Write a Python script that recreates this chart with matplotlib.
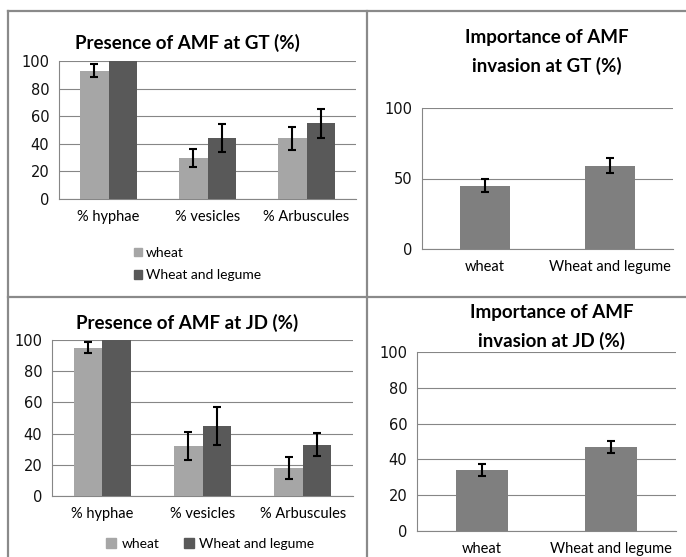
import matplotlib
matplotlib.use("Agg")
import matplotlib.pyplot as plt
from matplotlib.lines import Line2D
from matplotlib.patches import Patch
import numpy as np

W, H = 686, 557

# AMF structures observed in roots, two cropping systems
structures = ["% hyphae", "% vesicles", "% Arbuscules"]
systems = ["wheat", "Wheat and legume"]

gt_wheat = [93, 30, 44]
gt_wheat_err = [4.5, 6.5, 8.5]
gt_mixed = [100, 44, 55]
gt_mixed_err = [0, 10, 10.5]

jd_wheat = [95, 32, 18]
jd_wheat_err = [3.5, 9, 7]
jd_mixed = [100, 45, 33]
jd_mixed_err = [0, 12, 7.5]

# Importance of AMF invasion
gt_invasion = [45, 59]
gt_invasion_err = [4.6, 5.3]
jd_invasion = [34, 47]
jd_invasion_err = [3.5, 3.5]

LIGHT = "#a6a6a6"
DARK = "#595959"
MID = "#7f7f7f"
GRID = "#868686"
FRAME = "#8a8a8a"

TITLE_FONT = ["Lato", "DejaVu Sans"]
NARROW_FONT = ["Liberation Sans Narrow", "Lato", "DejaVu Sans"]
TICK_FONT = ["DejaVu Sans"]

fig = plt.figure(figsize=(W / 100, H / 100), dpi=100)
fig.patch.set_facecolor("white")


def px_axes(x0, y0, x1, y1):
    return fig.add_axes([x0 / W, 1 - y1 / H, (x1 - x0) / W, (y1 - y0) / H])


def style(ax, yticks, tick_size=10.5):
    ax.set_ylim(0, 100)
    ax.set_yticks(yticks)
    ax.yaxis.grid(True, color=GRID, linewidth=0.8)
    ax.set_axisbelow(True)
    for s in ("top", "right"):
        ax.spines[s].set_visible(False)
    for s in ("left", "bottom"):
        ax.spines[s].set_color(GRID)
        ax.spines[s].set_linewidth(0.8)
    ax.tick_params(axis="both", length=0)
    ax.tick_params(axis="y", pad=7)
    ax.tick_params(axis="x", pad=8)
    for lab in ax.get_yticklabels():
        lab.set_fontfamily(TICK_FONT)
        lab.set_fontsize(tick_size)
        lab.set_color("#111111")


def errbars(ax, x, y, e):
    x = np.asarray(x, float)
    y = np.asarray(y, float)
    e = np.asarray(e, float)
    m = e > 0
    ax.errorbar(x[m], y[m], yerr=e[m], fmt="none", ecolor="black",
                elinewidth=1.5, capsize=3, capthick=1.5, zorder=4)


def presence(ax, wheat, wheat_err, mixed, mixed_err, yticks):
    x = np.arange(len(structures))
    bw = 0.283
    ax.bar(x - bw / 2, wheat, bw, color=LIGHT, zorder=3, label=systems[0])
    ax.bar(x + bw / 2, mixed, bw, color=DARK, zorder=3, label=systems[1])
    errbars(ax, x - bw / 2, wheat, wheat_err)
    errbars(ax, x + bw / 2, mixed, mixed_err)
    ax.set_xlim(-0.5, len(structures) - 0.5)
    ax.set_xticks(x)
    ax.set_xticklabels(structures, fontfamily=NARROW_FONT, fontsize=10.5)
    style(ax, yticks)


def invasion(ax, vals, errs, yticks):
    x = np.arange(len(systems))
    bw = 0.4
    ax.bar(x, vals, bw, color=MID, zorder=3)
    errbars(ax, x, vals, errs)
    ax.set_xlim(-0.5, len(systems) - 0.5)
    ax.set_xticks(x)
    ax.set_xticklabels(systems, fontfamily=NARROW_FONT, fontsize=10.5)
    style(ax, yticks)


# panel frames
for (x0, y0, x1, y1) in [(7.5, 10.5, W, 10.5), (7.5, 10.5, 7.5, H),
                         (367, 10.5, 367, H), (7.5, 297, W, 297)]:
    fig.add_artist(Line2D([x0 / W, x1 / W], [1 - y0 / H, 1 - y1 / H],
                          color=FRAME, linewidth=1.6, transform=fig.transFigure))

# top-left: presence at GT
ax1 = px_axes(59, 61, 356, 199)
presence(ax1, gt_wheat, gt_wheat_err, gt_mixed, gt_mixed_err, range(0, 101, 20))
fig.text(187 / W, 1 - 43 / H, "Presence of AMF at GT (%)", ha="center", va="center",
         fontfamily=TITLE_FONT, fontweight="bold", fontsize=13.5)
h = [Patch(color=LIGHT), Patch(color=DARK)]
fig.legend(h, systems, loc="upper left", bbox_to_anchor=(134 / W, 1 - 247 / H),
           frameon=False, prop={"family": NARROW_FONT, "size": 10},
           handlelength=0.55, handleheight=0.55, handletextpad=0.3,
           labelspacing=0.75, borderpad=0, borderaxespad=0)

# top-right: invasion at GT
ax2 = px_axes(422, 108, 673, 249)
invasion(ax2, gt_invasion, gt_invasion_err, [0, 50, 100])
fig.text(547 / W, 1 - 52 / H, "Importance of AMF\ninvasion at GT (%)", ha="center",
         va="center", fontfamily=TITLE_FONT, fontweight="bold", fontsize=13.5,
         linespacing=1.75)

# bottom-left: presence at JD
ax3 = px_axes(52, 340, 353, 496)
presence(ax3, jd_wheat, jd_wheat_err, jd_mixed, jd_mixed_err, range(0, 101, 20))
fig.text(187 / W, 1 - 323 / H, "Presence of AMF at JD (%)", ha="center", va="center",
         fontfamily=TITLE_FONT, fontweight="bold", fontsize=13.5)
fig.legend(h, systems, loc="center left", bbox_to_anchor=(106 / W, 1 - 544 / H),
           ncol=2, frameon=False, prop={"family": NARROW_FONT, "size": 10},
           handlelength=0.7, handleheight=0.7, handletextpad=0.4,
           columnspacing=1.8, borderpad=0, borderaxespad=0)

# bottom-right: invasion at JD
ax4 = px_axes(417, 352, 676, 531)
invasion(ax4, jd_invasion, jd_invasion_err, range(0, 101, 20))
fig.text(552 / W, 1 - 327 / H, "Importance of AMF\ninvasion at JD (%)", ha="center",
         va="center", fontfamily=TITLE_FONT, fontweight="bold", fontsize=13.5,
         linespacing=1.75)

fig.savefig("out.png", dpi=100, facecolor="white")
